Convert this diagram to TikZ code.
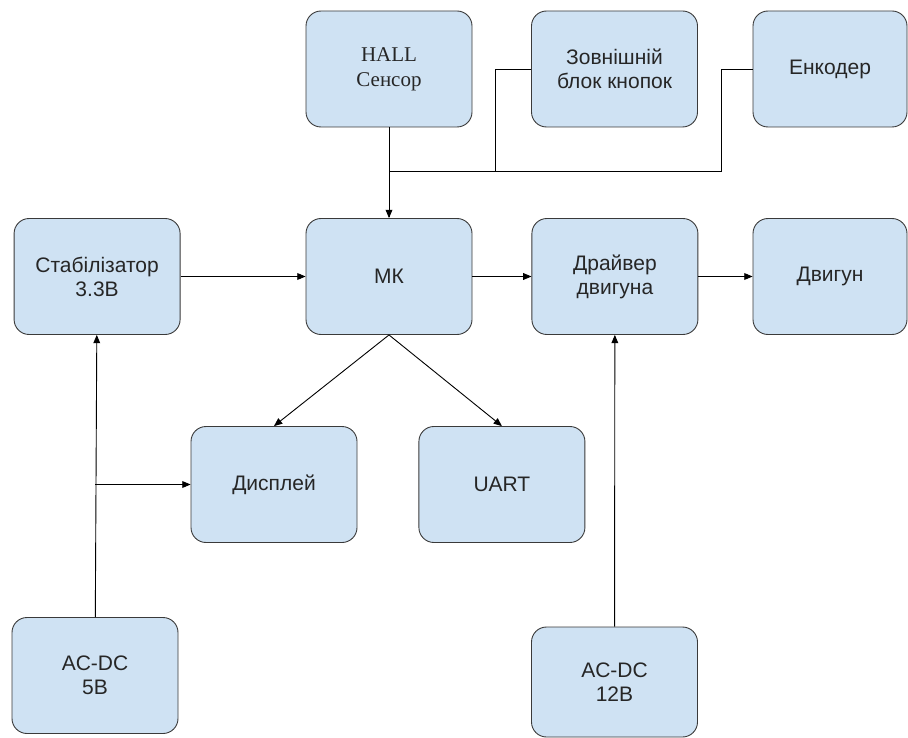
\documentclass[tikz,border=0pt]{standalone}
\usepackage{fontspec}
\setmainfont{Liberation Sans}
\newfontfamily\hallfont{Liberation Serif}
\usetikzlibrary{arrows,positioning}
\tikzset{arrows={-triangle 45}}
\definecolor{blokfill}{HTML}{CFE2F3}
\definecolor{blokline}{HTML}{3A3A3A}

\begin{document}
\begin{tikzpicture}[x=1pt, y=-1pt, line width=0.9pt,
    blok/.style={draw=blokline, fill=blokfill, rounded corners=15pt,
      minimum width=166pt, minimum height=116pt, inner sep=0pt, align=center,
      text=black!85, font=\fontsize{21}{24}\selectfont}]
  \useasboundingbox (0,0) rectangle (908,738);

    \node[blok, font=\hallfont\fontsize{21}{25}\selectfont] (hall) at (389,69) {HALL\\Сенсор};
    \node[blok] (knop) at (614.5,69) {Зовнішній\\блок кнопок};
    \node[blok, minimum width=154pt] (enc) at (830,69) {Енкодер};

    \node[blok] (mk) at (389,276.5) {МК};
    \node[blok] (stab) [left = 125pt of mk] {Стабілізатор\\3.3В};
    \node[blok] (drv) [right = 59pt of mk] {Драйвер\\двигуна};
    \node[blok, minimum width=154pt] (motor) at (830,276.5) {Двигун};

    \node[blok] (disp) at (274,484.5) {Дисплей};
    \node[blok] (uart) [right = 61pt of disp] {UART};

    \node[blok] (acdc5) at (95,675.5) {AC-DC\\5В};
    \node[blok, minimum height=110pt] (acdc12) at (614.5,682) {AC-DC\\12В};

    \coordinate (bus) at (389,171);
    \coordinate (odg) at (acdc5.north |- disp.west);

    \path (hall) edge (mk)
          (stab) edge (mk)
          (mk) edge (drv)
          (drv) edge (motor)
          (mk.south) edge (disp.north)
          (mk.south) edge (uart.north)
          (acdc5) edge (stab)
          (odg) edge (disp)
          (acdc12) edge (drv);
    \draw[-] (knop.west) -- ++(-36,0) |- (bus);
    \draw[-] (enc.west) -- ++(-31,0) |- (bus);
  \end{tikzpicture}
\end{document}
